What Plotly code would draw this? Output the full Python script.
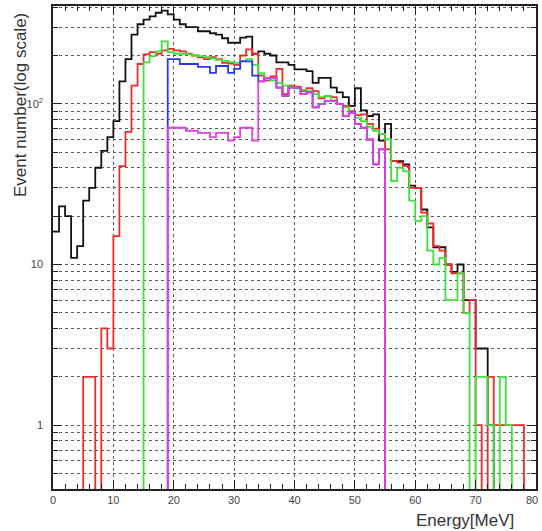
import plotly.graph_objects as go

# Bin edges: 1 MeV bins from 0 to 80 MeV
edges = list(range(0, 81))

black = [16, 23, 20, 11, 13, 25, 30, 40, 51, 62,
         78, 138, 190, 270, 313, 334, 350, 369, 380, 360,
         334, 313, 300, 300, 283, 283, 275, 270, 256, 240,
         240, 258, 262, 205, 212, 205, 200, 181, 181, 175,
         164, 164, 160, 135, 145, 145, 126, 118, 110, 97,
         125, 91, 84, 86, 59, 75, 44, 44, 42, 31,
         30, 22, 17, 12.8, 12.8, 10, 9, 10, 6, 6,
         3, 3, 1, 0, 0, 0, 0, 0, 0, 0]

red = [0, 0, 0, 0, 0, 2, 2, 0, 4, 3,
       15, 41, 67, 130, 177, 203, 210, 205, 215, 220,
       215, 212, 205, 200, 195, 190, 195, 190, 180, 178,
       175, 200, 218, 205, 150, 140, 148, 165, 115, 130,
       128, 120, 125, 120, 108, 112, 110, 100, 97, 90,
       85, 86, 75, 70, 65, 52, 44, 43, 41, 30,
       30, 21, 18, 13, 12.2, 10, 8.8, 8.8, 5, 6,
       1, 0, 2, 1, 1, 1, 1, 1, 0, 0]

green = [0, 0, 0, 0, 0, 0, 0, 0, 0, 0,
         0, 0, 0, 0, 0, 181, 198, 212, 245, 210,
         205, 205, 203, 200, 198, 195, 192, 188, 185, 182,
         180, 185, 190, 175, 155, 145, 140, 135, 130, 128,
         125, 122, 120, 115, 110, 112, 105, 100, 95, 88,
         82, 78, 72, 68, 65, 60, 33, 40, 38, 25,
         18.7, 20, 12.2, 10, 11, 6, 6, 8.8, 5, 0,
         2, 2, 1, 0, 2, 1, 0, 0, 0, 0]

blue = [0] * 19 + [190, 190, 177, 177, 177, 170, 170, 156, 172, 172,
                   156, 165, 184, 184, 150,
                   138, 145, 145, 126, 112, 126, 126, 115, 118, 95,
                   100, 104, 104, 100, 84, 88, 75, 71, 60, 42, 52] + [0] * 25

magenta = [0] * 19 + [71, 71, 71, 68, 68, 66, 66, 62, 66, 66,
                      59, 62, 71, 71, 59,
                      138, 145, 145, 126, 112, 126, 126, 115, 118, 95,
                      100, 104, 104, 100, 84, 88, 75, 71, 60, 42, 52] + [0] * 25

series = [
    ("black", black, "#111111"),
    ("red", red, "#ee2a2a"),
    ("green", green, "#3ee03e"),
    ("blue", blue, "#2a3ae8"),
    ("magenta", magenta, "#e040e0"),
]

x_ticks = [0, 10, 20, 30, 40, 50, 60, 70]
y_major = [1, 10, 100]
y_major_text = ["1", "10", "10<sup>2</sup>"]
y_grid = [0.5, 0.6, 0.7, 0.8, 0.9, 1, 2, 3, 4, 5, 6, 7, 8, 9, 10,
          20, 30, 40, 50, 60, 70, 80, 90, 100, 200, 300, 400]

fig = go.Figure()
for name, vals, col in series:
    y = [v if v > 0 else 1e-3 for v in vals]
    y = y + [y[-1]]
    fig.add_trace(go.Scatter(x=edges, y=y, mode="lines", name=name,
                             line=dict(color=col, width=1.8, shape="hv"),
                             showlegend=False, hoverinfo="skip"))

fig.update_layout(
    width=542, height=531,
    margin=dict(l=53, r=4, t=5, b=42),
    paper_bgcolor="white", plot_bgcolor="white",
    font=dict(family="Liberation Sans, Arial, sans-serif", color="#333333"),
)

fig.update_xaxes(
    range=[0, 80], tickvals=x_ticks + [80], ticktext=[str(v) for v in x_ticks] + [""],
    ticks="inside", ticklen=9, tickwidth=1, tickcolor="#222",
    minor=dict(dtick=2, ticks="inside", ticklen=5, tickcolor="#222", showgrid=False),
    showline=True, linecolor="#222", linewidth=1.5, mirror="ticks",
    showgrid=True, gridcolor="#5a5a5a", griddash="dot", gridwidth=1,
    zeroline=False, tickfont=dict(size=11, color="#444"),
)

fig.update_yaxes(
    type="log", range=[-0.3975, 2.609],
    tickvals=y_major, ticktext=y_major_text,
    ticks="inside", ticklen=9, tickwidth=1, tickcolor="#222",
    minor=dict(tickvals=y_grid, ticks="inside", ticklen=5, tickcolor="#222",
               showgrid=True, gridcolor="#5a5a5a", griddash="dot", gridwidth=1),
    showline=True, linecolor="#222", linewidth=1.5, mirror="ticks",
    showgrid=True, gridcolor="#5a5a5a", griddash="dot", gridwidth=1,
    zeroline=False, tickfont=dict(size=11, color="#444"), ticklabelstandoff=6,
)

# last x tick label, pushed against the right edge as in the reference
fig.add_annotation(text="80", xref="paper", yref="paper",
                   x=1.0, y=0, xanchor="right", yanchor="top", xshift=4, yshift=-3,
                   showarrow=False, font=dict(size=11, color="#444"))
fig.add_annotation(text="Energy[MeV]", xref="paper", yref="paper",
                   x=1.0, y=0, xanchor="right", yanchor="top", yshift=-20, xshift=-20,
                   showarrow=False, font=dict(size=17, color="#333"))
fig.add_annotation(text="Event number(log scale)", xref="paper", yref="paper",
                   x=0, y=1, xanchor="center", yanchor="top", textangle=-90,
                   xshift=-33, yshift=-5,
                   showarrow=False, font=dict(size=17, color="#333"))

fig.write_html("out.html")
